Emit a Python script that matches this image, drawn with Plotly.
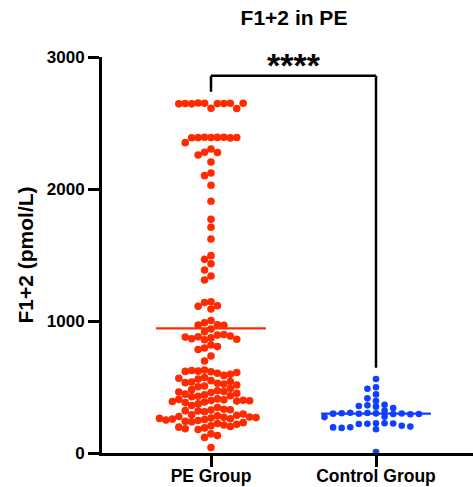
import numpy as np
import plotly.graph_objects as go

# ---------------- data ----------------
categories = ["PE Group", "Control Group"]

pe_values = [
    2612, 2650, 2648, 2652, 2647, 2645, 2650, 2648, 2610, 2645, 2650,
    2390, 2392, 2391, 2389, 2392, 2388, 2387, 2351, 2390,
    2303, 2278, 2276, 2258, 2205, 2121, 2101, 2028, 1907, 1770, 1710, 1621,
    1495, 1467, 1434, 1386, 1341, 1311,
    1146, 1140, 1116, 1112, 1091,
    1004, 987, 972, 970, 968, 939,
    919, 872, 893, 858, 881, 898, 866, 886, 878, 862,
    818, 795, 806, 784,
    735, 697,
    615, 628, 604, 620, 588, 625, 596, 618, 610,
    548, 572, 528, 560, 538, 508, 566, 522, 542, 502, 533, 515,
    458, 488, 440, 472, 430, 465, 480, 446, 426, 462, 452, 434,
    398, 410, 386, 403, 393, 406, 382, 400, 390, 396,
    372, 345, 360,
    325, 312, 332, 318, 328, 321,
    265, 281, 254, 290, 246, 270, 236, 286, 260, 277, 241, 295, 257, 273, 250, 268, 262,
    206, 224, 190, 218, 178, 212, 201, 230, 184, 196,
    145, 118, 132,
    42,
]

control_values = [
    561, 498, 487, 444, 414, 394,
    361, 366, 351, 356, 340, 321,
    300, 303, 297, 305, 295, 299, 301, 294, 298, 296,
    275, 272,
    225, 222, 225, 220, 224,
    195, 207, 190, 200, 180, 194,
    8,
]

y_ticks = [0, 1000, 2000, 3000]
title_text = "F1+2 in PE"
y_title = "F1+2 (pmol/L)"
sig_label = "****"

# ---------------- styling ----------------
PE_COLOR = "#FF2A00"
CTRL_COLOR = "#0F3FFF"
FONT = "Liberation Sans, Arial, Helvetica, sans-serif"

W, H = 473, 487
M_L, M_R, M_T, M_B = 102, 0, 57, 34
PLOT_W = W - M_L - M_R
PLOT_H = H - M_T - M_B
Y_MAX = 3000
PX_PER_UNIT = PLOT_H / Y_MAX
CAT_PX = 165.0                      # pixels between the two category centres
X0 = -109.0 / CAT_PX                # left edge of the axis
X1 = X0 + PLOT_W / CAT_PX
HALF_SWARM_PX = 51.5


def swarm_offsets(values, row_px):
    """Greedy slot beeswarm (GraphPad-like): each point takes the slot nearest the
    centre that has no other point within row_px vertically; widths are then
    normalised so the widest row spans a fixed column width."""
    order = [0]
    for k in range(1, 60):
        order += [-k, k]
    placed = {}
    slots = []
    for v in values:
        ypx = v * PX_PER_UNIT
        for s in order:
            if all(abs(ypx - o) >= row_px for o in placed.get(s, [])):
                placed.setdefault(s, []).append(ypx)
                slots.append(s)
                break
    slots = np.array(slots, dtype=float)
    m = np.abs(slots).max() if len(slots) else 1
    step = (HALF_SWARM_PX / CAT_PX) / max(m, 1)
    return slots * step


groups = [
    (pe_values, PE_COLOR, 7.6, 7.0),
    (control_values, CTRL_COLOR, 6.6, 5.6),
]

fig = go.Figure()
for gi, (vals, color, msize, row_px) in enumerate(groups):
    vals = np.asarray(vals, dtype=float)
    xs = gi + swarm_offsets(vals, row_px)
    fig.add_trace(go.Scatter(
        x=xs, y=vals, mode="markers",
        marker=dict(color=color, size=msize, line=dict(width=0)),
        cliponaxis=False, showlegend=False, hoverinfo="y",
    ))
    mean = float(vals.mean())
    fig.add_trace(go.Scatter(
        x=[gi - 0.333, gi + 0.333], y=[mean, mean], mode="lines",
        line=dict(color=color, width=2.2),
        cliponaxis=False, showlegend=False, hoverinfo="skip",
    ))

# significance bracket
pe_max = max(pe_values)
ctrl_max = max(control_values)
bracket_y = 2858
gap = 85
for (xa, ya, xb, yb) in [
    (0, pe_max + gap, 0, bracket_y),
    (0, bracket_y, 1, bracket_y),
    (1, bracket_y, 1, ctrl_max + gap),
]:
    fig.add_shape(type="line", xref="x", yref="y", x0=xa, y0=ya, x1=xb, y1=yb,
                  line=dict(color="black", width=2.5), layer="above")

fig.add_annotation(x=0.5, y=2940, xref="x", yref="y", text=sig_label,
                   showarrow=False, yanchor="middle",
                   font=dict(family=FONT, size=34, color="black", weight="bold"))

fig.update_layout(
    width=W, height=H,
    margin=dict(l=M_L, r=M_R, t=M_T, b=M_B, pad=0),
    paper_bgcolor="white", plot_bgcolor="white",
    font=dict(family=FONT, color="black"),
    title=dict(text=title_text, x=294 / W, xanchor="center", xref="container",
               y=1 - 18 / H, yanchor="middle", yref="container",
               font=dict(family=FONT, size=21, color="black", weight="bold")),
    xaxis=dict(
        range=[X0, X1], tickvals=[0, 1], ticktext=categories,
        showline=True, linewidth=3, linecolor="black",
        ticks="outside", ticklen=11, tickwidth=3, tickcolor="black",
        ticklabelstandoff=-6,
        tickfont=dict(family=FONT, size=17.5, color="black", weight="bold"),
        showgrid=False, zeroline=False, automargin=False,
    ),
    yaxis=dict(
        range=[0, Y_MAX], tickvals=y_ticks,
        showline=True, linewidth=3, linecolor="black",
        ticks="outside", ticklen=11, tickwidth=3, tickcolor="black",
        tickfont=dict(family=FONT, size=17, color="black", weight="bold"),
        showgrid=False, zeroline=False, automargin=False,
        title=dict(text=y_title, standoff=8,
                   font=dict(family=FONT, size=21, color="black", weight="bold")),
    ),
)

fig.write_html("out.html")
